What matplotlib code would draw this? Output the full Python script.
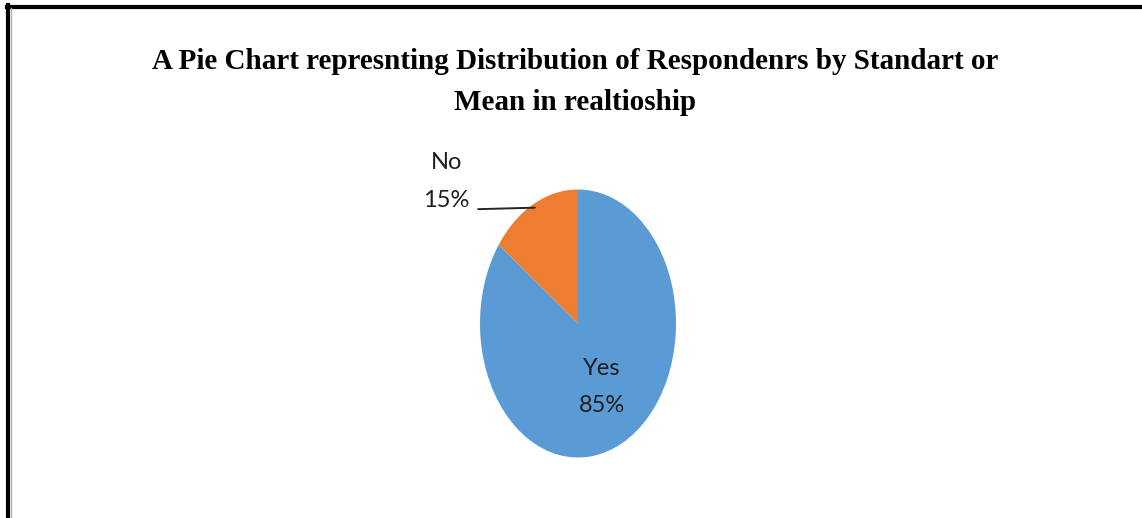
import matplotlib.pyplot as plt
from matplotlib.lines import Line2D
import numpy as np

# Données du graphique
categories = ['Yes', 'No']
values = [85, 15]
colors = ['#5B9BD5', '#ED7D31']
title = ('A Pie Chart represnting Distribution of Respondenrs by Standart or\n'
         'Mean in realtioship')

W, H = 1142, 518
fig = plt.figure(figsize=(W / 100, H / 100), dpi=100)
fig.patch.set_facecolor('white')

# Cadre noir en haut et à gauche
fig.add_artist(Line2D([7 / W, 1.0], [1 - 6.5 / H, 1 - 6.5 / H], color='black', lw=3))
fig.add_artist(Line2D([7.5 / W, 7.5 / W], [0, 1 - 5 / H], color='black', lw=3))
fig.add_artist(Line2D([10.5 / W, 10.5 / W], [0, 1 - 8 / H], color='#b0b0b0', lw=1))

# Titre
fig.text(575 / W, 1 - 82 / H, title, ha='center', va='center',
         fontsize=21, fontweight='bold', family='Liberation Serif',
         linespacing=1.62, color='black')

# Camembert (légèrement étiré verticalement)
cx, cy, rx, ry = 578, 323.5, 98, 134
ax = fig.add_axes([(cx - rx) / W, 1 - (cy + ry) / H, 2 * rx / W, 2 * ry / H])
wedges, _ = ax.pie(values, colors=colors, startangle=90, counterclock=False,
                   wedgeprops=dict(linewidth=0))
ax.set_aspect('auto')
ax.set_xlim(-1, 1)
ax.set_ylim(-1, 1)
ax.axis('off')

total = sum(values)
label_font = dict(fontsize=17, family=['Lato', 'DejaVu Sans'],
                  color='#1e1e1e', linespacing=1.95)
for w, cat, v in zip(wedges, categories, values):
    ang = np.deg2rad((w.theta1 + w.theta2) / 2)
    txt = f'{cat}\n{v / total * 100:.0f}%'
    if v / total > 0.5:
        # étiquette à l'intérieur de la part
        ax.text(0.53 * np.cos(ang), 0.53 * np.sin(ang), txt,
                ha='center', va='center', **label_font)
    else:
        # étiquette extérieure avec trait de rappel
        ax.annotate(txt, xy=(0.97 * np.cos(ang), 0.97 * np.sin(ang)),
                    xytext=(-1.34, 1.06), ha='center', va='center',
                    arrowprops=dict(arrowstyle='-', color='#262626', lw=1.4,
                                    relpos=(1.0, 0.02), shrinkA=4, shrinkB=0),
                    **label_font)

plt.savefig('out.png', dpi=100, facecolor='white')
